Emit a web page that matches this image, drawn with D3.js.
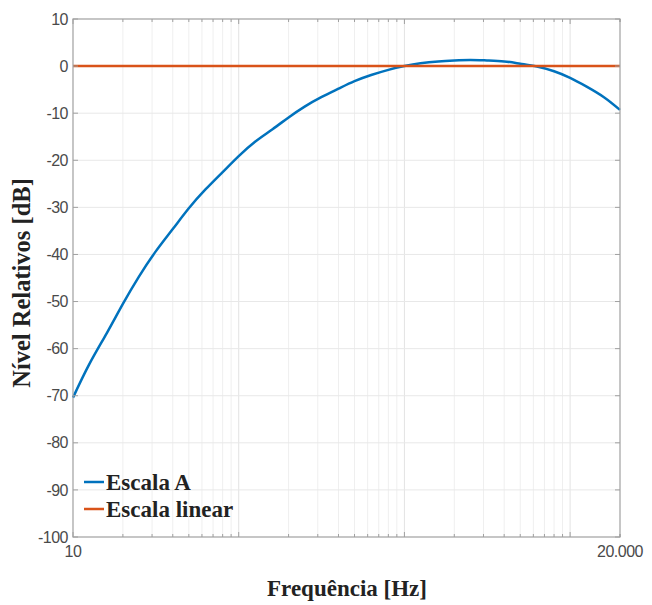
<!DOCTYPE html>
<html><head><meta charset="utf-8">
<script src="https://cdn.jsdelivr.net/npm/d3@7"></script>
<style>body{margin:0;background:#fff}</style>
</head><body>
<svg id="c" width="652" height="605"></svg>
<script>
const freqs = [10,12.5,16,20,25,31.5,40,50,63,80,100,125,160,200,250,315,400,500,630,800,1000,1250,1600,2000,2500,3150,4000,5000,6300,8000,10000,12500,16000,20000];
const escalaA = [-70.4,-63.4,-56.7,-50.5,-44.7,-39.4,-34.6,-30.2,-26.2,-22.5,-19.1,-16.1,-13.4,-10.9,-8.6,-6.6,-4.8,-3.2,-1.9,-0.8,0,0.6,1.0,1.2,1.3,1.2,1.0,0.5,-0.1,-1.1,-2.5,-4.3,-6.6,-9.3];
const escalaLinear = freqs.map(() => 0);
const yTicks = [10,0,-10,-20,-30,-40,-50,-60,-70,-80,-90,-100];
const xTickLabels = [{v:10,t:"10"},{v:20000,t:"20.000"}];
const seriesNames = ["Escala A","Escala linear"];
const colors = ["#0072BD","#D95319"];

const svg = d3.select("#c");
const L=73,R=620,T=19,B=537;
const x = d3.scaleLog().domain([10,20000]).range([L,R]);
const y = d3.scaleLinear().domain([-100,10]).range([B,T]);

const xAll=[];
for(let d=10; d<=10000; d*=10){for(let k=1;k<10;k++){const v=d*k; if(v>=10&&v<=20000) xAll.push(v);} }
xAll.push(20000);
const majors=[10,100,1000,10000];

const g=svg.append("g");
g.selectAll(".gx").data(xAll.filter(v=>v>10&&v<20000)).enter().append("line")
 .attr("x1",d=>x(d)).attr("x2",d=>x(d)).attr("y1",T).attr("y2",B)
 .attr("stroke",d=>majors.includes(d)?"#e3e3e3":"#efefef").attr("stroke-width",1);
g.selectAll(".gy").data(yTicks.filter(v=>v>-100&&v<10)).enter().append("line")
 .attr("x1",L).attr("x2",R).attr("y1",d=>y(d)).attr("y2",d=>y(d))
 .attr("stroke","#e8e8e8").attr("stroke-width",1);

const line=d3.line().x((d,i)=>x(freqs[i])).y(d=>y(d)).curve(d3.curveNatural);
svg.append("path").attr("d",line(escalaA)).attr("fill","none").attr("stroke",colors[0]).attr("stroke-width",2.5);
svg.append("path").attr("d",line(escalaLinear)).attr("fill","none").attr("stroke",colors[1]).attr("stroke-width",2.5);

svg.append("rect").attr("x",L).attr("y",T).attr("width",R-L).attr("height",B-T).attr("fill","none").attr("stroke","#a0a0a0").attr("stroke-width",1.2);

const tk=svg.append("g").attr("stroke","#a0a0a0").attr("stroke-width",1);
xAll.forEach(v=>{const len=majors.includes(v)?5:3;
 tk.append("line").attr("x1",x(v)).attr("x2",x(v)).attr("y1",B).attr("y2",B-len);
 tk.append("line").attr("x1",x(v)).attr("x2",x(v)).attr("y1",T).attr("y2",T+len);});
yTicks.forEach(v=>{
 tk.append("line").attr("x1",L).attr("x2",L+5).attr("y1",y(v)).attr("y2",y(v));
 tk.append("line").attr("x1",R).attr("x2",R-5).attr("y1",y(v)).attr("y2",y(v));});

svg.selectAll(".yl").data(yTicks).enter().append("text")
 .attr("x",L-5).attr("y",d=>y(d)).attr("dy","0.35em").attr("text-anchor","end")
 .attr("font-family","Liberation Sans, Arial, sans-serif").attr("font-size",16).attr("fill","#4a4a4a")
 .attr("letter-spacing","-0.5").text(d=>d);
svg.selectAll(".xl").data(xTickLabels).enter().append("text")
 .attr("x",d=>x(d.v)).attr("y",B+20).attr("text-anchor","middle")
 .attr("font-family","Liberation Sans, Arial, sans-serif").attr("font-size",16).attr("fill","#4a4a4a")
 .attr("letter-spacing","-0.5").text(d=>d.t);

svg.append("text").attr("x",347).attr("y",596).attr("text-anchor","middle")
 .attr("font-family","Liberation Serif, Times New Roman, serif").attr("font-weight","bold").attr("font-size",23).attr("fill","#222")
 .text("Frequência [Hz]");
svg.append("text").attr("transform","translate(30,283) rotate(-90)").attr("text-anchor","middle")
 .attr("font-family","Liberation Serif, Times New Roman, serif").attr("font-weight","bold").attr("font-size",24.5).attr("fill","#222")
 .text("Nível Relativos [dB]");

const lg=svg.append("g");
seriesNames.forEach((n,i)=>{
 const yy=482+i*27;
 lg.append("line").attr("x1",84).attr("x2",104).attr("y1",yy).attr("y2",yy).attr("stroke",colors[i]).attr("stroke-width",2.5);
 lg.append("text").attr("x",106).attr("y",yy).attr("dy","0.35em")
  .attr("font-family","Liberation Serif, Times New Roman, serif").attr("font-weight","bold").attr("font-size",23).attr("fill","#222").text(n);
});
</script>
</body></html>
